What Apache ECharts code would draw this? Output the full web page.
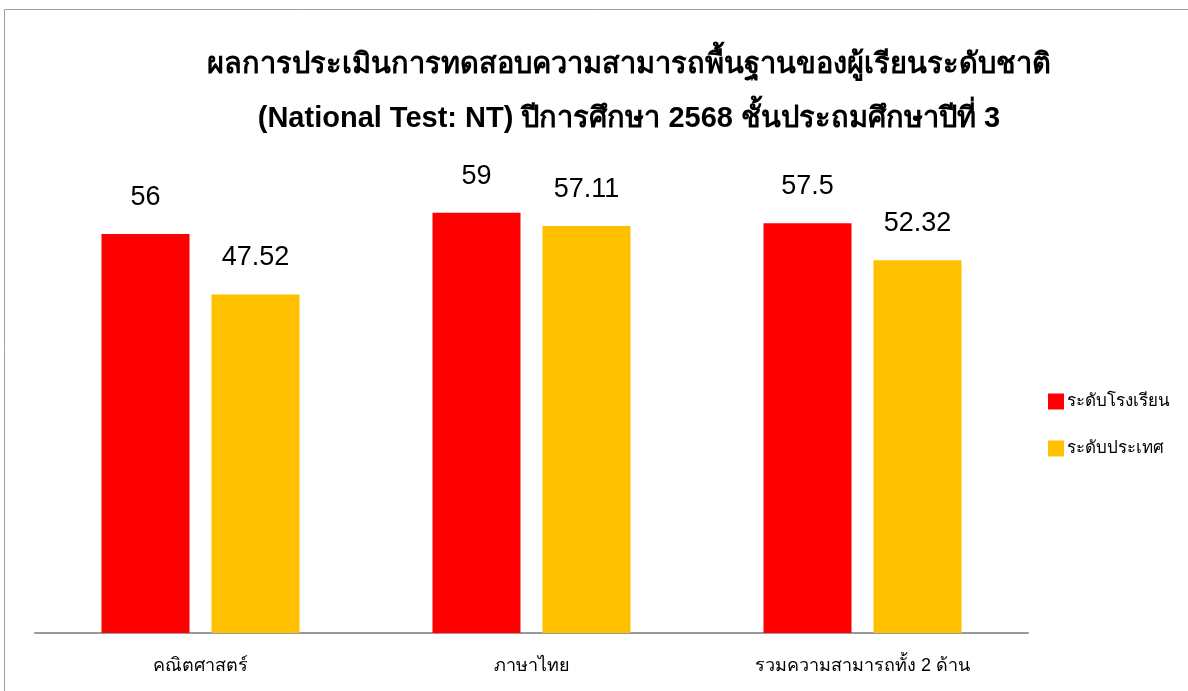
<!DOCTYPE html>
<html>
<head>
<meta charset="utf-8">
<script src="https://cdn.jsdelivr.net/npm/echarts@6/dist/echarts.min.js"></script>
<style>
  html, body { margin: 0; padding: 0; background: #fff; }
  #chart { width: 1188px; height: 691px; }
</style>
</head>
<body>
<div id="chart"></div>
<script>
const categories = ['คณิตศาสตร์', 'ภาษาไทย', 'รวมความสามารถทั้ง 2 ด้าน']
const schoolValues = [56, 59, 57.5]
const nationValues = [47.52, 57.11, 52.32]
const seriesNames = ['ระดับโรงเรียน', 'ระดับประเทศ']

const font = 'Arial, "Liberation Sans", sans-serif'
const chart = echarts.init(document.getElementById('chart'))

const barLabel = {
  show: true,
  position: 'top',
  distance: 23,
  color: '#000',
  fontSize: 27,
  fontFamily: font
}

const option = {
  animation: false,
  title: {
    text: 'ผลการประเมินการทดสอบความสามารถพื้นฐานของผู้เรียนระดับชาติ\n(National Test: NT) ปีการศึกษา 2568 ชั้นประถมศึกษาปีที่ 3',
    left: 624,
    top: 33,
    textAlign: 'center',
    textStyle: {
      fontFamily: font,
      fontWeight: 'bold',
      fontSize: 29,
      lineHeight: 54,
      color: '#000'
    }
  },
  legend: {
    orient: 'vertical',
    left: 1043,
    top: 388,
    itemWidth: 16,
    itemHeight: 16,
    itemGap: 30,
    icon: 'rect',
    textStyle: { fontFamily: font, fontSize: 17, color: '#000', padding: [0, 0, 0, -2] },
    data: seriesNames
  },
  grid: {
    left: 35,
    right: 160,
    top: 205.5,
    bottom: 58,
    containLabel: false
  },
  xAxis: {
    type: 'category',
    data: categories,
    axisLine: { lineStyle: { color: '#999', width: 2 } },
    axisTick: { show: false },
    axisLabel: {
      color: '#000',
      fontSize: 18,
      fontFamily: font,
      margin: 24
    }
  },
  yAxis: {
    type: 'value',
    min: 0,
    max: 60,
    show: false,
    splitLine: { show: false }
  },
  series: [
    {
      name: seriesNames[0],
      type: 'bar',
      data: schoolValues,
      barWidth: 88,
      barGap: '25%',
      itemStyle: { color: '#FF0000' },
      label: barLabel
    },
    {
      name: seriesNames[1],
      type: 'bar',
      data: nationValues,
      barWidth: 88,
      itemStyle: { color: '#FFC000' },
      label: barLabel
    }
  ],
  graphic: [
    {
      type: 'rect',
      shape: { x: 4.5, y: 9.5, width: 1200, height: 700 },
      style: { fill: 'none', stroke: '#a0a0a0', lineWidth: 1 },
      silent: true
    }
  ]
}

chart.setOption(option)
</script>
</body>
</html>
